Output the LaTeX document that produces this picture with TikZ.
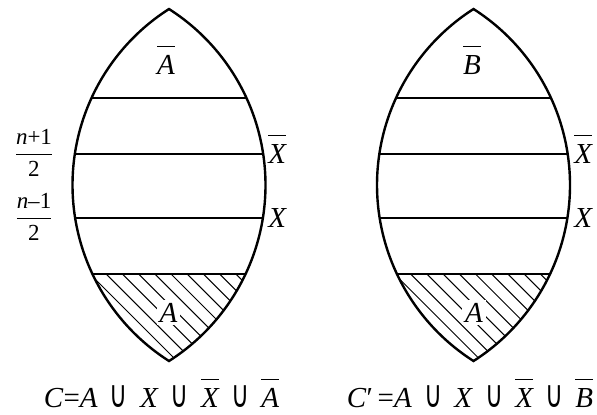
\documentclass[tikz,border=0pt]{standalone}
\usepackage{fontspec}
\usepackage{amsmath}
\setmainfont{Liberation Serif}
\newfontfamily\unionfont{DejaVu Sans}
\usetikzlibrary{calc}

% letters with a bar, union sign, half fractions
\newcommand{\olit}[1]{$\overline{\mbox{\itshape\rule{0pt}{0.82em}#1}}$}
\newcommand{\cupsym}{\hspace{0.42em}\scalebox{0.85}[1.3]{\unionfont ∪}\hspace{0.42em}}
\newcommand{\halffrac}[2]{$\genfrac{}{}{0.75pt}{0}{\mbox{\itshape #1\upshape #21}}{\mbox{2}}$}

\tikzset{
  lensline/.style={line width=1.2pt},
  bandline/.style={line width=1.1pt},
  hatchline/.style={line width=0.5pt},
  lab/.style={inner sep=0pt,font=\fontsize{14.5}{17}\selectfont},
  fraclab/.style={inner sep=0pt,font=\fontsize{11.5}{13}\selectfont},
}

\begin{document}
\begin{tikzpicture}[x=0.5pt,y=0.5pt]

    \useasboundingbox (0,0) rectangle (597,414);

    % two lenses with bands and hatched bottom
    \foreach \cx in {169,473.5}{
      \begin{scope}
        \clip (\cx,53) arc[start angle=-57.47,end angle=57.47,radius=104.375pt]
          arc[start angle=122.53,end angle=237.47,radius=104.375pt] -- cycle;
        \begin{scope}
          \clip (\cx-110,0) rectangle (\cx+110,140);
          \foreach \k in {-6,...,6}{
            \draw[hatchline] (\cx+2+16.2*\k-10,150) -- ++(120,-120);
          }
        \end{scope}
        \foreach \y in {316,260,196,140}{
          \draw[bandline] (\cx-110,\y) -- (\cx+110,\y);
        }
      \end{scope}
      \draw[lensline] (\cx,53) arc[start angle=-57.47,end angle=57.47,radius=104.375pt]
        arc[start angle=122.53,end angle=237.47,radius=104.375pt] -- cycle;
    }

    % labels in and beside the lenses
    \node[lab,anchor=base] (abarl) at (166,340) {\olit{A}};
    \node[lab,anchor=base] (bbarr) at (472,340) {\olit{B}};
    \node[lab,anchor=base,fill=white,inner sep=1.5pt] (al) at (168.5,92) {\textit{A}};
    \node[lab,anchor=base,fill=white,inner sep=1.5pt] (ar) at (474,92) {\textit{A}};
    \node[lab,anchor=base west] (xbarl) at (268,251) {\olit{X}};
    \node[lab,anchor=base west] (xl) at (268,187) {\textit{X}};
    \node[lab,anchor=base west] (xbarr) at (574,251) {\olit{X}};
    \node[lab,anchor=base west] (xr) at (574,187) {\textit{X}};
    \node[fraclab] (fracup) at (34,261) {\halffrac{n}{+}};
    \node[fraclab] (fraclo) at (34,197) {\halffrac{n}{–}};

    % formulas under the lenses
    \node[lab,anchor=base] (forml) at (161.5,7)
      {\textit{C}=\textit{A}\cupsym\textit{X}\cupsym\olit{X}\cupsym\olit{A}};
    \node[lab,anchor=base] (formr) at (470,7)
      {\textit{C}′\,=\textit{A}\cupsym\textit{X}\cupsym\olit{X}\cupsym\olit{B}};

  \end{tikzpicture}
\end{document}
